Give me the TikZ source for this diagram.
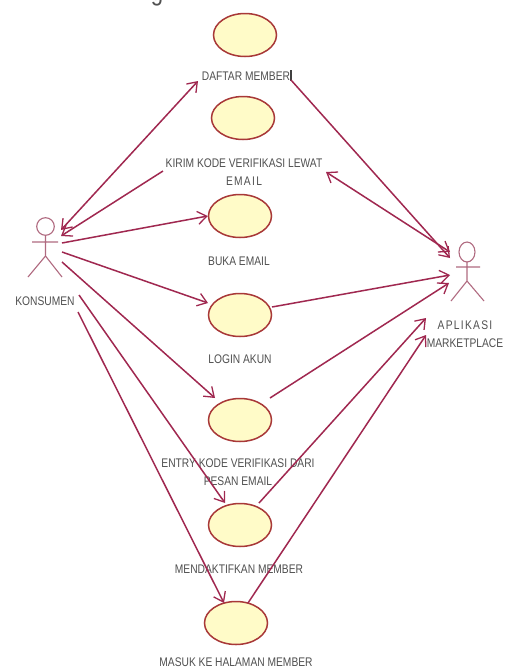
\documentclass[tikz,border=0pt]{standalone}
\usepackage{fontspec}
\setmainfont[FakeStretch=0.82]{Liberation Sans}
\usetikzlibrary{arrows.meta,shapes.geometric}
\definecolor{linecol}{HTML}{A02850}
\definecolor{actorcol}{HTML}{B06A80}
\definecolor{ucfill}{HTML}{FFFBC8}
\definecolor{ucdraw}{HTML}{A83838}
\definecolor{txtcol}{HTML}{505050}
\newcommand{\spc}{\hspace{1.3pt}}
\tikzset{
  usecase/.style={draw=ucdraw,fill=ucfill,line width=1.5pt,ellipse,minimum width=63pt,minimum height=43pt,inner sep=0pt},
  lab/.style={text=txtcol,font=\fontsize{12.5}{18}\selectfont,align=center,inner sep=0pt},
  conn/.style={draw=linecol,line width=1.5pt,-{Straight Barb[length=9pt,width=13pt,line width=1.3pt]}},
  both/.style={draw=linecol,line width=1.5pt,{Straight Barb[length=9pt,width=13pt,line width=1.3pt]}-{Straight Barb[length=9pt,width=13pt,line width=1.3pt]}},
  actorline/.style={draw=actorcol,line width=1.1pt}
}
\begin{document}
\begin{tikzpicture}[x=1pt,y=-1pt]
\useasboundingbox (0,0) rectangle (507,670);
\fill[white] (0,0) rectangle (507,670);
% use cases
\node[usecase] (uc1) at (245,35) {};
\node[usecase] (uc2) at (243,118) {};
\node[usecase] (uc3) at (240,216) {};
\node[usecase] (uc4) at (240,315) {};
\node[usecase] (uc5) at (240,420) {};
\node[usecase] (uc6) at (240,525) {};
\node[usecase] (uc7) at (236,623) {};
% labels
\node[lab,anchor=base] (frag) at (157,0) {\fontsize{27}{27}\selectfont g};
\node[lab] (l1) at (246,76) {DAFTAR MEMBER};
\node[lab] (l2) at (244,172) {KIRIM KODE VERIFIKASI LEWAT\\E\spc M\spc A\spc I\spc L};
\node[lab] (l3) at (239,261) {BUKA EMAIL};
\node[lab] (l4) at (240,359) {LOGIN AKUN};
\node[lab] (l5) at (238,472) {ENTRY KODE VERIFIKASI DARI\\PESAN EMAIL};
\node[lab] (l6) at (239,569) {MENDAKTIFKAN MEMBER};
\node[lab] (l7) at (236,662) {MASUK KE HALAMAN MEMBER};
\node[lab] (kl) at (45,301) {KONSUMEN};
\node[lab] (al) at (465,334) {A\spc P\spc L\spc I\spc K\spc A\spc S\spc I\\MARKETPLACE};
% text cursor
\draw[black!75,line width=1.1pt] (291,70) -- (291,81);
% actors
\draw[actorline] (45.5,226.5) ellipse (8.8 and 8.8);
\draw[actorline] (32,242) -- (58,242) (45.5,235.3) -- (45.5,256) -- (28,277) (45.5,256) -- (62,277);
\draw[actorline] (467,252) ellipse (8 and 10);
\draw[actorline] (456,267) -- (480,267) (467,262) -- (467,281) -- (451,301) (467,281) -- (484,301);
% connector ends
\coordinate (ka) at (61,230);
\coordinate (kb) at (61,236);
\coordinate (kc) at (62,243);
\coordinate (kd) at (62,252);
\coordinate (ke) at (62,262);
\coordinate (kf) at (79,295);
\coordinate (kg) at (78,312);
\coordinate (aa) at (450,258);
\coordinate (ab) at (450,252);
\coordinate (ac) at (450,275);
\coordinate (ad) at (449,283);
\coordinate (ae) at (426,318);
\coordinate (af) at (426,335);
\coordinate (t1) at (198,81);
\coordinate (t1b) at (291,80);
\coordinate (t2) at (163,171);
\coordinate (t2b) at (326,172);
\coordinate (t4) at (208,303);
\coordinate (t4b) at (272,307);
\coordinate (t5) at (215,398);
\coordinate (t5b) at (270,398);
\coordinate (t6) at (225,503);
\coordinate (t6b) at (259,503);
\coordinate (t7) at (224,603);
\coordinate (t7b) at (248,603);
% connectors
\draw[both] (ka) -- (t1);
\draw[conn] (t2) -- (kb);
\draw[conn] (kc) -- (uc3.west);
\draw[conn] (kd) -- (t4);
\draw[conn] (ke) -- (t5);
\draw[conn] (kf) -- (t6);
\draw[conn] (kg) -- (t7);
\draw[conn] (t1b) -- (aa);
\draw[both] (t2b) -- (ab);
\draw[conn] (t4b) -- (ac);
\draw[conn] (t5b) -- (ad);
\draw[conn] (t6b) -- (ae);
\draw[conn] (t7b) -- (af);
\end{tikzpicture}
\end{document}
